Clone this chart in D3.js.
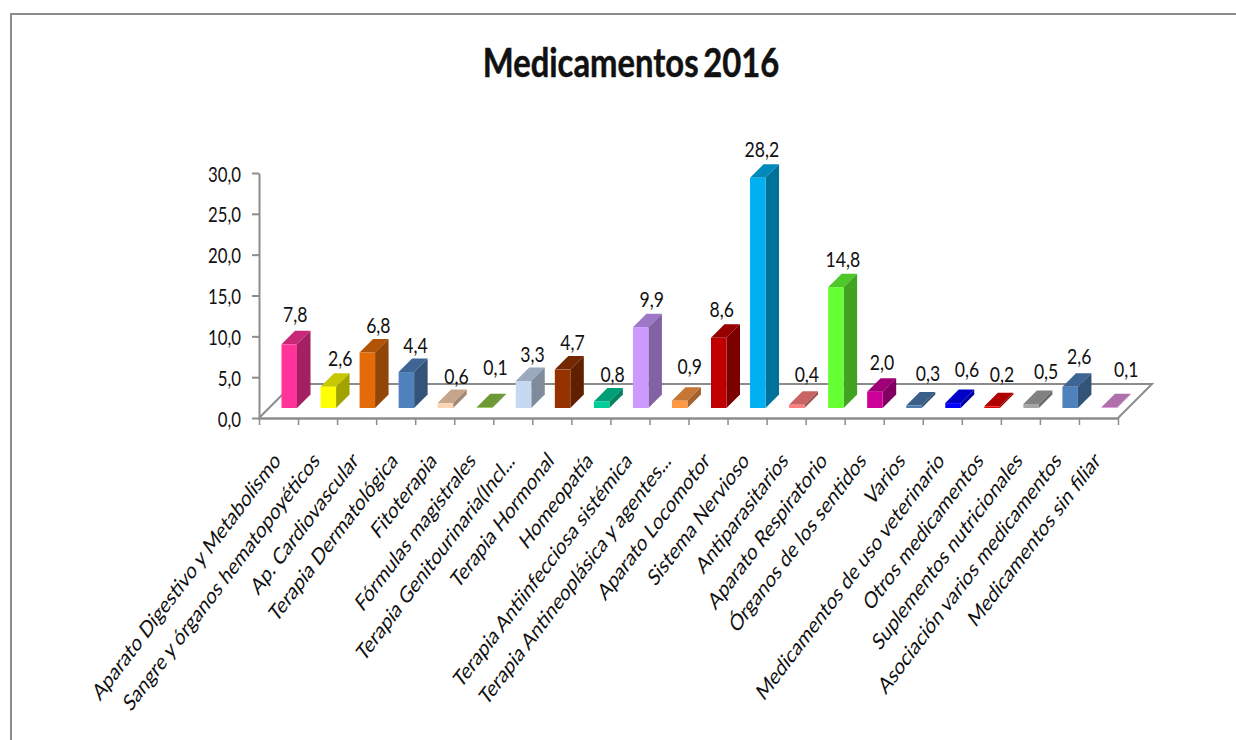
<!DOCTYPE html>
<html>
<head>
<meta charset="utf-8">
<script src="https://cdn.jsdelivr.net/npm/d3@7"></script>
<style>
  body { margin: 0; background: #fff; }
  text { font-family: Lato, "Open Sans", sans-serif; fill: #111; }
  .axis path, .axis line, .floor { stroke: #8c8c8c; fill: none; }
</style>
</head>
<body>
<div id="chart"></div>
<script>
const categories = [
  "Aparato Digestivo y Metabolismo", "Sangre y órganos hematopoyéticos", "Ap. Cardiovascular",
  "Terapia Dermatológica", "Fitoterapia", "Fórmulas magistrales", "Terapia Genitourinaria(Incl...",
  "Terapia Hormonal", "Homeopatía", "Terapia Antiinfecciosa sistémica",
  "Terapia Antineoplásica y agentes...", "Aparato Locomotor", "Sistema Nervioso", "Antiparasitarios",
  "Aparato Respiratorio", "Órganos de los sentidos", "Varios", "Medicamentos de uso veterinario",
  "Otros medicamentos", "Suplementos nutricionales", "Asociación varios medicamentos",
  "Medicamentos sin filiar"
];
const values = [7.8, 2.6, 6.8, 4.4, 0.6, 0.1, 3.3, 4.7, 0.8, 9.9, 0.9, 8.6, 28.2, 0.4, 14.8, 2.0, 0.3, 0.6, 0.2, 0.5, 2.6, 0.1];
const barColors = [
  "#FF3399", "#FFFF00", "#E36C09", "#4F81BD", "#FCD5B5", "#8CC646", "#C6D9F1", "#963200", "#00CC99", "#CC99FF", "#FF9944",
  "#C00000", "#00B0F0", "#FF8080", "#66FF33", "#CC0099", "#4A7AB0", "#0000FF", "#E00000", "#A6A6A6", "#4F81BD", "#E08FDC"
];
const yTicks = [0, 5, 10, 15, 20, 25, 30];
// nudges of the value labels, the source chart moved some of them by hand
const labelGaps = [9, 7, 6, 6, 6, 19, 6, 6, 6, 7, 13, 7, 7, 9, 7, 8, 11, 13, 11, 11, 9, 17];
const labelShifts = [0, 6, 5, 3, 5, 5, 3, 4, 5, 5, 4, -3, -2, 4, 1, 1, 8, 8, 4, 9, 3, 11];

const chartTitle = "Medicamentos 2016";
const comma = d => d3.format(".1f")(d).replace(".", ",");

const svg = d3.select("#chart").append("svg")
  .attr("width", 1236)
  .attr("height", 740);

// Outer frame, only top and left are inside the picture
svg.append("path")
  .attr("d", "M11,740V14H1236")
  .attr("fill", "none")
  .attr("stroke", "#8c8c8c")
  .attr("stroke-width", 2);

svg.append("text")
  .attr("transform", "translate(631,77) scale(0.82,1)")
  .attr("text-anchor", "middle")
  .attr("font-size", 40)
  .attr("font-weight", 700)
  .attr("word-spacing", -4)
  .attr("stroke", "#111")
  .attr("stroke-width", 0.5)
  .text(chartTitle);

const x = d3.scaleLinear().domain([0, categories.length]).range([259, 1118]);
const y = d3.scaleLinear().domain([0, 30]).range([418, 173]);

const floorDepth = 34;
const barOffset = 10;   // how far back on the floor the bars stand
const barDepth = 13.5;
const barInset = 22.5;
const barWidth = 15.5;

// Floor of the 3D plot
svg.append("path")
  .attr("class", "floor")
  .attr("stroke-width", 2)
  .attr("d", `M${x(0)},${y(0)}L${x(0) + floorDepth},${y(0) - floorDepth}H${x(22) + floorDepth}L${x(22)},${y(0)}`);

// Y axis
const yAxis = svg.append("g")
  .attr("class", "axis")
  .attr("transform", `translate(${x(0)},0)`)
  .call(d3.axisLeft(y).tickValues(yTicks).tickSize(7).tickSizeOuter(0).tickFormat(comma));
yAxis.selectAll("path, line").attr("stroke", "#8c8c8c").attr("stroke-width", 2);
yAxis.selectAll("text")
  .attr("font-size", 21)
  .attr("text-anchor", "end")
  .attr("dy", null)
  .attr("x", null)
  .attr("transform", `translate(-18,8) scale(0.8,1)`)
  .attr("fill", "#111");

// X axis, the ticks sit between the categories
const xAxis = svg.append("g")
  .attr("class", "axis")
  .attr("transform", `translate(0,${y(0)})`)
  .call(d3.axisBottom(x).tickValues(d3.range(categories.length + 1)).tickSize(7).tickSizeOuter(0).tickFormat(""));
xAxis.selectAll("path").attr("stroke", "#8c8c8c").attr("stroke-width", 2.5);
xAxis.selectAll("line").attr("stroke", "#a0a0a0").attr("stroke-width", 1.5);

// Bars: one polygon each for the top, side and front
const bars = svg.append("g").selectAll("g")
  .data(values)
  .join("g");

const barLeft = (d, i) => x(i) + barInset;
const barBottom = y(0) - barOffset;
const barTop = d => barBottom - (y(0) - y(d));

bars.append("polygon")
  .attr("fill", (d, i) => {
    const c = d3.rgb(barColors[i]);
    return d3.rgb(c.r * 0.78, c.g * 0.78, c.b * 0.78);
  })
  .attr("points", (d, i) => {
    const l = barLeft(d, i), t = barTop(d);
    return [[l, t], [l + barWidth, t], [l + barWidth + barDepth, t - barDepth], [l + barDepth, t - barDepth]].join(" ");
  });

bars.append("polygon")
  .attr("fill", (d, i) => {
    const c = d3.rgb(barColors[i]);
    return d3.rgb(c.r * 0.64, c.g * 0.64, c.b * 0.64);
  })
  .attr("points", (d, i) => {
    const r = barLeft(d, i) + barWidth, t = barTop(d);
    return [[r, t], [r + barDepth, t - barDepth], [r + barDepth, barBottom - barDepth], [r, barBottom]].join(" ");
  });

bars.append("rect")
  .attr("x", barLeft)
  .attr("y", d => barTop(d))
  .attr("width", barWidth)
  .attr("height", d => barBottom - barTop(d))
  .attr("fill", (d, i) => barColors[i]);

// Value labels
bars.append("text")
  .attr("text-anchor", "middle")
  .attr("font-size", 22)
  .attr("transform", (d, i) => `translate(${barLeft(d, i) + barWidth / 2 + 6 + labelShifts[i]},${barTop(d) - barDepth - labelGaps[i]}) scale(0.8,1)`)
  .text(comma);

// Category labels, stretched like the source picture
svg.append("g").selectAll("text")
  .data(categories)
  .join("text")
  .attr("text-anchor", "end")
  .attr("font-size", 17.6)
  .attr("transform", (d, i) => `translate(${x(i + 0.5) + 3},462) scale(1,1.32) rotate(-45)`)
  .text(d => d);
</script>
</body>
</html>
